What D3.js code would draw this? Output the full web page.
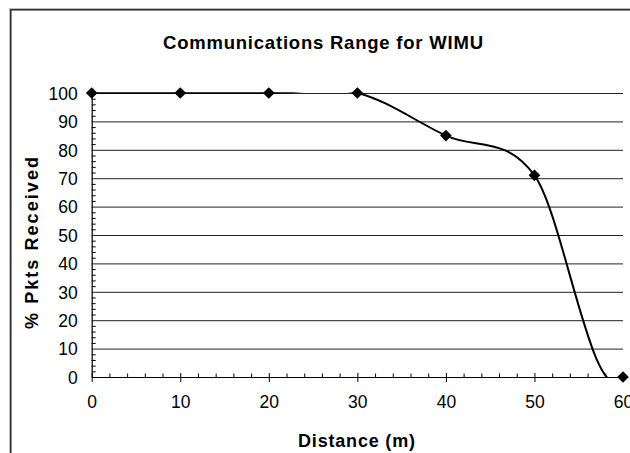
<!DOCTYPE html>
<html>
<head>
<meta charset="utf-8">
<script src="https://cdn.jsdelivr.net/npm/d3@7"></script>
<style>
  html, body { margin: 0; padding: 0; background: #fff; }
  svg { display: block; font-family: "Liberation Sans", Arial, sans-serif; }
</style>
</head>
<body>
<svg id="chart" width="630" height="453"></svg>
<script>
// ---- data ----
const distance = [0, 10, 20, 30, 40, 50, 60];
const pktsReceived = [100, 100, 100, 100, 85, 71, 0];
const xTicks = [0, 10, 20, 30, 40, 50, 60];
const yTicks = [0, 10, 20, 30, 40, 50, 60, 70, 80, 90, 100];
const minorStep = 2;
const titleText = "Communications Range for WIMU";
const xTitle = "Distance (m)";
const yTitle = "% Pkts Received";

// ---- layout ----
const W = 630, H = 453;
const plot = { left: 91.7, right: 623, top: 93, bottom: 377 };

const svg = d3.select("#chart");

// chart frame (extends past the window like the reference)
svg.append("rect")
  .attr("x", 9.5).attr("y", 8.5).attr("width", 700).attr("height", 600)
  .attr("fill", "none").attr("stroke", "#bbb").attr("stroke-width", 1);
svg.append("rect")
  .attr("x", 10.8).attr("y", 9.8).attr("width", 700).attr("height", 600)
  .attr("fill", "none").attr("stroke", "#333").attr("stroke-width", 1.6);

const x = d3.scaleLinear().domain([0, 60]).range([plot.left, plot.right]);
const y = d3.scaleLinear().domain([0, 100]).range([plot.bottom, plot.top]);

// gridlines
const grid = svg.append("g")
  .attr("transform", `translate(${plot.left},0)`)
  .call(d3.axisLeft(y).tickValues(yTicks.filter(v => v > 0)).tickSize(-(plot.right - plot.left)).tickFormat(""));
grid.select(".domain").remove();
grid.selectAll(".tick line").attr("stroke", "#222").attr("stroke-width", 1);

// y axis
const minorTicks = d3.range(0, 100 + 1e-9, minorStep).filter(v => v % 10 !== 0);
const yMinor = svg.append("g")
  .attr("transform", `translate(${plot.left},0)`)
  .call(d3.axisRight(y).tickValues(minorTicks).tickSize(4).tickFormat(""));
yMinor.select(".domain").remove();
yMinor.selectAll(".tick line").attr("stroke", "#000");

const yAxis = svg.append("g")
  .attr("transform", `translate(${plot.left},0)`)
  .call(d3.axisLeft(y).tickValues(yTicks).tickSize(0).tickPadding(14));
yAxis.select(".domain").attr("stroke", "#000").attr("stroke-width", 1.2);
yAxis.selectAll("text")
  .attr("font-size", 17.5).attr("fill", "#000").attr("dy", "0.36em")
  .style("font-family", "Liberation Sans, Arial, sans-serif");

// x axis
const xMinorVals = d3.range(0, 60 + 1e-9, minorStep).filter(v => v % 10 !== 0);
const xMinor = svg.append("g")
  .attr("transform", `translate(0,${plot.bottom})`)
  .call(d3.axisTop(x).tickValues(xMinorVals).tickSize(3.5).tickFormat(""));
xMinor.select(".domain").remove();
xMinor.selectAll(".tick line").attr("stroke", "#000");

const xAxis = svg.append("g")
  .attr("transform", `translate(0,${plot.bottom})`)
  .call(d3.axisBottom(x).tickValues(xTicks).tickSize(5).tickSizeOuter(0).tickPadding(0));
xAxis.select(".domain").attr("stroke", "#000").attr("stroke-width", 1.2);
xAxis.selectAll(".tick line").attr("y1", -4).attr("y2", 5).attr("stroke", "#000");
xAxis.selectAll("text")
  .attr("font-size", 17.5).attr("fill", "#000").attr("y", 31.3).attr("dy", 0)
  .style("font-family", "Liberation Sans, Arial, sans-serif");

// smoothed line (Excel-like Bezier smoothing) clipped to the plot area
function excelSmooth(context) {
  return {
    areaStart() {}, areaEnd() {},
    lineStart() { this._p = []; },
    point(px, py) { this._p.push([+px, +py]); },
    lineEnd() {
      const p = this._p, n = p.length;
      if (!n) return;
      context.moveTo(p[0][0], p[0][1]);
      if (n === 1) return;
      for (let i = 0; i < n - 1; i++) {
        const P1 = p[i], P2 = p[i + 1];
        let c1, c2;
        if (i > 0) {
          const P0 = p[i - 1];
          c1 = [P1[0] + (P2[0] - P0[0]) / 6, P1[1] + (P2[1] - P0[1]) / 6];
        }
        if (i < n - 2) {
          const P3 = p[i + 2];
          c2 = [P2[0] - (P3[0] - P1[0]) / 6, P2[1] - (P3[1] - P1[1]) / 6];
        }
        if (!c1 && !c2) { c1 = P1; c2 = P2; }
        else if (!c1) c1 = [P1[0] - (c2[0] - P2[0]), P1[1] + (c2[1] - P2[1])];
        else if (!c2) c2 = [P2[0] - (c1[0] - P1[0]), P2[1] + (c1[1] - P1[1])];
        context.bezierCurveTo(c1[0], c1[1], c2[0], c2[1], P2[0], P2[1]);
      }
    }
  };
}

svg.append("clipPath").attr("id", "plotClip")
  .append("rect")
  .attr("x", plot.left - 2).attr("y", plot.top - 0.7)
  .attr("width", plot.right - plot.left + 4).attr("height", plot.bottom - plot.top + 1.2);

const pts = distance.map((d, i) => ({ d, v: pktsReceived[i] }));
const line = d3.line().x(p => x(p.d)).y(p => y(p.v)).curve(excelSmooth);

svg.append("path")
  .datum(pts)
  .attr("clip-path", "url(#plotClip)")
  .attr("d", line)
  .attr("fill", "none").attr("stroke", "#000").attr("stroke-width", 2)
  .attr("stroke-linejoin", "round");

// markers
svg.append("g").selectAll("path")
  .data(pts)
  .join("path")
  .attr("transform", p => `translate(${x(p.d)},${y(p.v)}) rotate(45)`)
  .attr("d", d3.symbol(d3.symbolSquare, 68))
  .attr("fill", "#000");

// titles
svg.append("text")
  .attr("x", 323).attr("y", 49).attr("text-anchor", "middle")
  .attr("font-size", 18.5).attr("font-weight", "bold")
  .attr("textLength", 320).attr("lengthAdjust", "spacing")
  .text(titleText);

svg.append("text")
  .attr("x", 356.5).attr("y", 447).attr("text-anchor", "middle")
  .attr("font-size", 18).attr("font-weight", "bold")
  .attr("textLength", 117).attr("lengthAdjust", "spacing")
  .text(xTitle);

svg.append("text")
  .attr("transform", "translate(37.5,243) rotate(-90)")
  .attr("text-anchor", "middle")
  .attr("font-size", 18).attr("font-weight", "bold")
  .attr("textLength", 172).attr("lengthAdjust", "spacing")
  .text(yTitle);
</script>
</body>
</html>
